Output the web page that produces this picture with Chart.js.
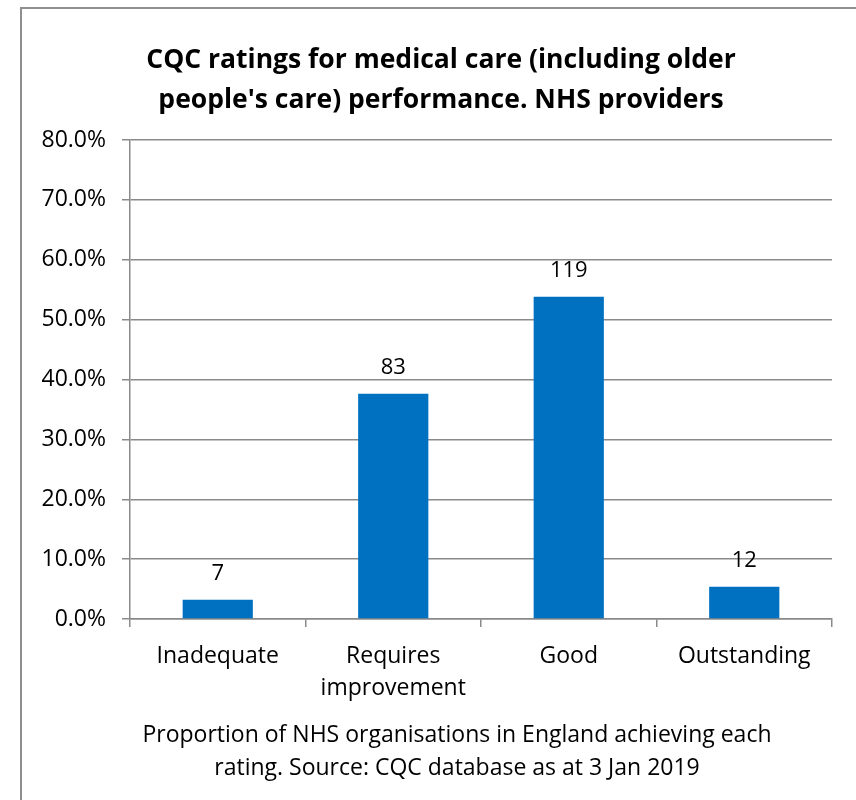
<!DOCTYPE html>
<html>
<head>
<meta charset="utf-8">
<script src="https://cdn.jsdelivr.net/npm/chart.js@4"></script>
<style>
  html, body { margin: 0; padding: 0; background: #fff; }
  #wrap { width: 856px; height: 800px; }
</style>
</head>
<body>
<div id="wrap"><canvas id="ratingsChart" width="856" height="800"></canvas></div>
<script>
// Chart data
const categories = ["Inadequate", ["Requires", "improvement"], "Good", "Outstanding"];
const proportions = [3.2, 37.6, 53.8, 5.4]; // % of NHS providers
const counts = [7, 83, 119, 12];           // labels shown above bars
const yTicks = [0, 10, 20, 30, 40, 50, 60, 70, 80];

const titleLines = ["CQC ratings for medical care (including older", "people's care) performance. NHS providers"];
const captionLines = ["Proportion of NHS organisations in England achieving each", "rating. Source: CQC database as at 3 Jan 2019"];

const FONT = "'Open Sans', sans-serif";

// frame, title, caption and count labels
const decorations = {
    id: "decorations",
    beforeDraw(chart) {
        const ctx = chart.ctx;
        ctx.save();
        ctx.strokeStyle = "#8f8f8f";
        ctx.lineWidth = 2;
        ctx.strokeRect(21, 8, 900, 900);
        ctx.restore();
    },
    afterDraw(chart) {
        const ctx = chart.ctx;
        ctx.save();
        ctx.fillStyle = "#000";
        ctx.textAlign = "center";
        ctx.textBaseline = "middle";

        ctx.font = "bold 26.5px " + FONT;
        titleLines.forEach((line, i) => ctx.fillText(line, 441, 60 + i * 40));

        ctx.font = "23px " + FONT;
        captionLines.forEach((line, i) => ctx.fillText(line, 457, 735 + i * 33));

        // counts above each bar
        ctx.font = "22px " + FONT;
        const meta = chart.getDatasetMeta(0);
        meta.data.forEach((bar, i) => {
            ctx.fillText(String(counts[i]), bar.x, bar.y - 26);
        });
        ctx.restore();
    }
};

new Chart(document.getElementById("ratingsChart"), {
    type: "bar",
    data: {
        labels: categories,
        datasets: [{
            data: proportions,
            backgroundColor: "#0070C0",
            borderWidth: 0,
            barPercentage: 0.8,
            categoryPercentage: 0.5
        }]
    },
    options: {
        responsive: false,
        animation: false,
        layout: { padding: { top: 140, right: 24, left: 0, bottom: 0 } },
        plugins: {
            legend: { display: false },
            title: { display: false },
            tooltip: { enabled: false }
        },
        scales: {
            y: {
                min: 0,
                max: 80,
                afterBuildTicks: (scale) => { scale.ticks = yTicks.map(v => ({ value: v })); },
                afterFit: (scale) => { scale.width = 130; },
                ticks: {
                    color: "#000",
                    font: { family: FONT, size: 23 },
                    padding: 16,
                    callback: (v) => v.toFixed(1) + "%"
                },
                grid: { color: "#8a8a8a", lineWidth: 1.5, tickLength: 8 },
                border: { color: "#8a8a8a", width: 1.5 }
            },
            x: {
                afterFit: (scale) => { scale.height = 181; },
                ticks: {
                    color: "#000",
                    font: { family: FONT, size: 23, lineHeight: 1.4 },
                    padding: 13,
                    maxRotation: 0
                },
                grid: { offset: true, drawOnChartArea: false, color: "#8a8a8a", lineWidth: 1.5, tickLength: 8 },
                border: { color: "#8a8a8a", width: 1.5 }
            }
        }
    },
    plugins: [decorations]
});
</script>
</body>
</html>
